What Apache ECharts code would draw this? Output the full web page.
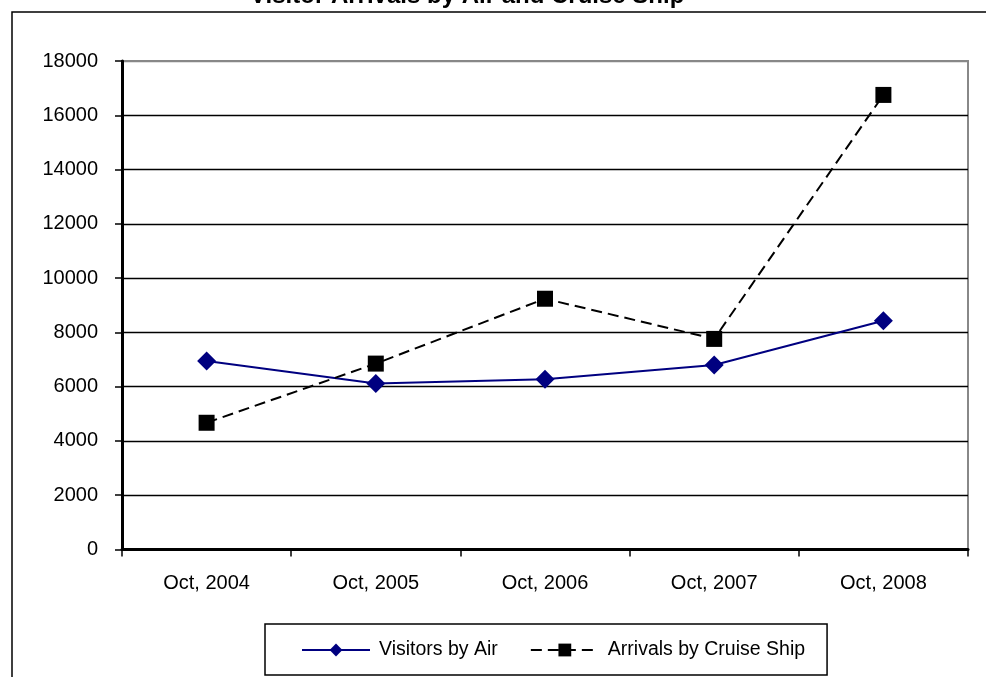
<!DOCTYPE html>
<html>
<head>
<meta charset="utf-8">
<script src="https://cdn.jsdelivr.net/npm/echarts@6/dist/echarts.min.js"></script>
<style>
html,body{margin:0;padding:0;background:#fff;}
#chart{width:986px;height:677px;}
</style>
</head>
<body>
<div id="chart"></div>
<script>
var categories = ['Oct, 2004', 'Oct, 2005', 'Oct, 2006', 'Oct, 2007', 'Oct, 2008'];
var visitorsByAir = [6950, 6120, 6270, 6800, 8430];
var cruiseArrivals = [4670, 6850, 9240, 7760, 16750];
var seriesNames = ['Visitors by Air', 'Arrivals by Cruise Ship'];
var chartTitle = 'Visitor Arrivals by Air and Cruise Ship';

var FONT = '"Liberation Sans", Arial, sans-serif';
var chart = echarts.init(document.getElementById('chart'), null, {renderer: 'canvas'});
chart.setOption({
  animation: false,
  backgroundColor: '#fff',
  title: {
    text: chartTitle,
    left: 250,
    top: -16,
    padding: 0,
    textStyle: {fontFamily: FONT, fontSize: 24, fontWeight: 'bold', color: '#000'}
  },
  graphic: [{
    type: 'rect',
    silent: true,
    z: -1,
    shape: {x: 12, y: 12, width: 1100, height: 800},
    style: {fill: 'none', stroke: '#000', lineWidth: 1.5}
  }],
  grid: {
    left: 122, top: 61, right: 18, bottom: 127.5,
    show: true, borderColor: '#888', borderWidth: 2, backgroundColor: 'transparent'
  },
  legend: {
    left: 265, top: 624,
    padding: [16, 22, 15, 36],
    borderColor: '#000', borderWidth: 1.5,
    itemWidth: 68, itemHeight: 16, itemGap: 32,
    textStyle: {fontFamily: FONT, fontSize: 19.5, color: '#000', padding: [0, 0, 0, 4]},
    data: seriesNames
  },
  xAxis: {
    type: 'category',
    data: categories,
    boundaryGap: true,
    axisLine: {lineStyle: {color: '#000', width: 3}},
    axisTick: {show: true, length: 7, lineStyle: {color: '#000', width: 1.5}},
    axisLabel: {fontFamily: FONT, fontSize: 20, color: '#000', margin: 24},
    splitLine: {show: false}
  },
  yAxis: {
    type: 'value',
    min: 0, max: 18000, interval: 2000,
    axisLine: {show: true, lineStyle: {color: '#000', width: 3}},
    axisTick: {show: true, length: 7, lineStyle: {color: '#000', width: 1.5}},
    axisLabel: {fontFamily: FONT, fontSize: 20, color: '#000', margin: 24,
      formatter: function (v) { return String(v); }},
    splitLine: {show: true, lineStyle: {
      color: ['#000', '#000', '#000', '#000', '#000', '#000', '#000', '#000', '#000', '#888'],
      width: 1.3}}
  },
  series: [{
    name: seriesNames[0],
    type: 'line',
    data: visitorsByAir,
    symbol: 'diamond',
    symbolSize: 19,
    color: '#000080',
    lineStyle: {color: '#000080', width: 2},
    itemStyle: {color: '#000080'},
    z: 3
  }, {
    name: seriesNames[1],
    type: 'line',
    data: cruiseArrivals,
    symbol: 'rect',
    symbolSize: 16,
    color: '#000',
    lineStyle: {color: '#000', width: 2, type: [11, 6]},
    itemStyle: {color: '#000'},
    z: 4
  }]
});
</script>
</body>
</html>
